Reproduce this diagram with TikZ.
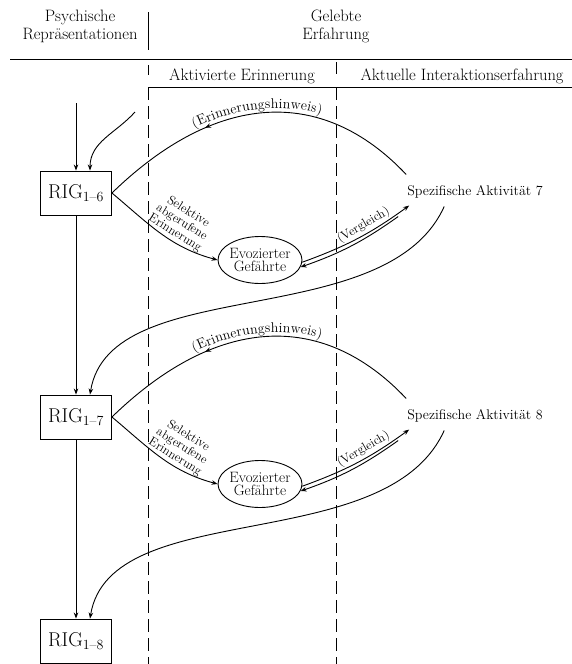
\documentclass[tikz,border=0pt]{standalone}
\usetikzlibrary{arrows.meta, shapes.geometric, decorations.markings, decorations.text}

\tikzset{
  rigbox/.style={draw, line width=0.9pt, minimum width=71pt, minimum height=44pt,
    font=\fontsize{20}{22}\selectfont},
  evoell/.style={draw, ellipse, line width=0.9pt, minimum width=84pt, minimum height=47pt,
    inner xsep=-4pt, inner ysep=0pt, align=center, font=\fontsize{15}{13.5}\selectfont},
  headtext/.style={align=center, font=\fontsize{16.5}{18}\selectfont},
  spezt/.style={font=\fontsize{14}{15}\selectfont, inner sep=2pt},
  smalllab/.style={font=\fontsize{12.5}{12.5}\selectfont, align=center, inner sep=2pt},
  flow/.style={line width=0.9pt, -{Stealth[length=6pt,width=4.5pt]}},
  divider/.style={line width=0.9pt, dash pattern=on 13pt off 6pt},
  cue/.style={line width=0.9pt, postaction={decorate}, decoration={markings,
    mark=at position 0.66 with {\arrow{Stealth[length=6pt,width=4.5pt]}}}},
  cuetext/.style={decorate, decoration={text along path, text align=center, raise=4pt,
    text={|\fontsize{14}{14}\selectfont|(Erinnerungshinweis)}}},
}

\begin{document}
\begin{tikzpicture}[x=1pt, y=1pt]
  \useasboundingbox (0,0) rectangle (572,-664);

  % header
  \node[headtext] (psych) at (80,-26) {Psychische\\Repräsentationen};
  \node[headtext] (gelebt) at (336,-26) {Gelebte\\Erfahrung};
  \draw[line width=0.9pt] (148,-12) -- (148,-50);
  \draw[line width=0.9pt] (10,-59) -- (572,-59);
  \node[headtext] (aktiv) at (242,-76) {Aktivierte Erinnerung};
  \node[headtext, anchor=west] (aktuell) at (357,-76) {Aktuelle Interaktionserfahrung};
  \draw[line width=0.9pt] (148,-65) -- (148,-75);
  \draw[line width=0.9pt] (336,-62) -- (336,-74);
  \draw[line width=0.9pt] (148,-87) -- (572,-87);
  \draw[divider] (148,-87) -- (148,-664);
  \draw[divider] (336,-87) -- (336,-664);

  % nodes
  \node[rigbox] (rig6) at (76,-193) {RIG\textsubscript{1--6}};
  \node[rigbox] (rig7) at (76,-417) {RIG\textsubscript{1--7}};
  \node[rigbox] (rig8) at (76,-641) {RIG\textsubscript{1--8}};
  \node[evoell] (evo7) at (260,-260) {Evozierter\\Gefährte};
  \node[evoell] (evo8) at (260,-484) {Evozierter\\Gefährte};
  \node[spezt] (spez7) at (475,-192) {Spezifische Aktivität 7};
  \node[spezt] (spez8) at (475,-416) {Spezifische Aktivität 8};

  \coordinate (start) at (76,-103);
  \coordinate (cue6) at (135,-112);

  % left column
  \draw[flow] (start) -- (rig6);
  \draw[flow] (cue6) to[out=228,in=90] ([xshift=14]rig6.north);
  \draw[flow] (rig6) -- (rig7);
  \draw[flow] (rig7) -- (rig8);

  % activity 7
  \draw[flow] (rig6.east) to[out=-40,in=165]
    node[smalllab, pos=0.6, above, sloped] {Selektive\\abgerufene\\Erinnerung} (evo7.west);
  \draw[cue] ([shift={(1,9)}]spez7.north west) .. controls +(-85,90) and +(103,100) .. (rig6.east);
  \path[cuetext] (rig6.east) .. controls +(103,100) and +(-85,90) .. ([shift={(1,9)}]spez7.north west);
  \draw[flow] (evo7.-3) to[bend right=8]
    node[smalllab, pos=0.6, above, sloped] {(Vergleich)} ([shift={(4,-5)}]spez7.south west);
  \draw[flow] ([shift={(-7,-16)}]spez7.south west) to[bend left=8] (evo7.-10);
  \draw[flow] ([shift={(39,-6)}]spez7.south west) .. controls +(-58,-128) and +(20,123) .. ([xshift=14]rig7.north);

  % activity 8
  \draw[flow] (rig7.east) to[out=-40,in=165]
    node[smalllab, pos=0.6, above, sloped] {Selektive\\abgerufene\\Erinnerung} (evo8.west);
  \draw[cue] ([shift={(1,9)}]spez8.north west) .. controls +(-85,90) and +(103,100) .. (rig7.east);
  \path[cuetext] (rig7.east) .. controls +(103,100) and +(-85,90) .. ([shift={(1,9)}]spez8.north west);
  \draw[flow] (evo8.-3) to[bend right=8]
    node[smalllab, pos=0.6, above, sloped] {(Vergleich)} ([shift={(4,-5)}]spez8.south west);
  \draw[flow] ([shift={(-7,-16)}]spez8.south west) to[bend left=8] (evo8.-10);
  \draw[flow] ([shift={(39,-6)}]spez8.south west) .. controls +(-58,-128) and +(20,123) .. ([xshift=14]rig8.north);
\end{tikzpicture}
\end{document}
